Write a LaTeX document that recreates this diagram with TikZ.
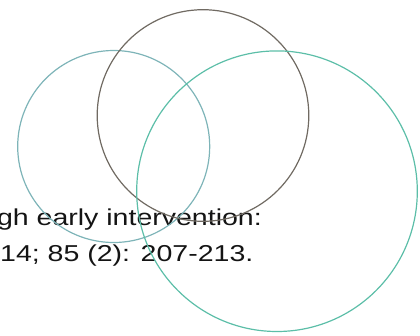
\documentclass[tikz,border=0pt]{standalone}
\usepackage{fontspec}
\setmainfont{Liberation Sans}
\usetikzlibrary{positioning}
\definecolor{RingLeft}{RGB}{126,180,184}
\definecolor{RingTop}{RGB}{112,106,98}
\definecolor{RingRight}{RGB}{92,190,168}
\definecolor{CiteBlack}{RGB}{20,20,20}

\begin{document}
\begin{tikzpicture}[
    x=1pt,
    y=-1pt,
    font=\fontsize{23}{27}\selectfont
]
\useasboundingbox (0,0) rectangle (420,335);

% Citation lines
\node[anchor=base east, inner sep=0pt, text=CiteBlack] (citeA) at (262,225)
  {\scalebox{1.24}[1]{gh early intervention:}};
\node[anchor=base west, inner sep=0pt, text=CiteBlack] (citeB) at (0,261)
  {\scalebox{1.24}[1]{14; 85 (2): 207-213.}};

% Rings
\draw[RingLeft, line width=1.2pt] (113.7,146.5) circle [radius=96];
\draw[RingTop, line width=1.2pt] (203,115.5) circle [radius=105.8];
\draw[RingRight, line width=1.2pt] (277,191.2) circle [radius=140.3];

\end{tikzpicture}
\end{document}
